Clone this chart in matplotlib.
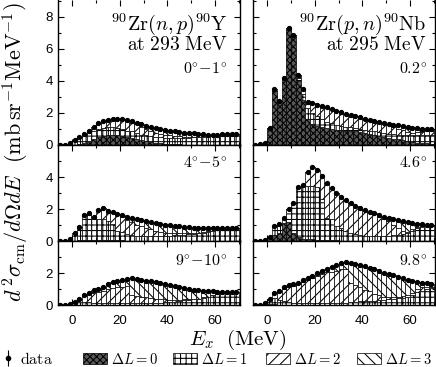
import numpy as np
import matplotlib.pyplot as plt
from matplotlib.patches import Patch
from matplotlib.ticker import MultipleLocator

plt.rcParams['font.family'] = 'Liberation Sans'
plt.rcParams['mathtext.fontset'] = 'cm'
plt.rcParams['hatch.linewidth'] = 0.75

# 2 MeV bins (centres) and data points
ex = np.arange(1, 70, 2)
ex_data = np.arange(-5, 70, 2)

# (n,p) 0-1 deg
np0_data = [0, 0.03, 0.1, 0.3, 0.52, 0.7, 0.88, 1.15, 1.4, 1.5, 1.58, 1.65, 1.65, 1.6, 1.55, 1.48, 1.4, 1.3,
            1.2, 1.12, 1.06, 1.0, 0.95, 0.9, 0.86, 0.82, 0.78, 0.75, 0.72, 0.68, 0.66, 0.64, 0.63, 0.64, 0.66,
            0.68, 0.7, 0.7]
np0_L0 = [0, 0.05, 0.1, 0.2, 0.35, 0.5, 0.55, 0.6, 0.6, 0.6, 0.55, 0.5, 0.45, 0.35, 0.3, 0.25, 0.2, 0.15,
          0.1, 0.08, 0.05, 0.05, 0.04, 0.03, 0.02, 0.02, 0.02, 0.01, 0.01, 0, 0, 0, 0, 0, 0]
np0_L1 = [0.3, 0.45, 0.5, 0.55, 0.55, 0.5, 0.5, 0.5, 0.5, 0.45, 0.45, 0.4, 0.4, 0.4, 0.35, 0.35, 0.35, 0.35,
          0.38, 0.38, 0.4, 0.4, 0.4, 0.4, 0.42, 0.45, 0.46, 0.5, 0.53, 0.56, 0.6, 0.63, 0.66, 0.68, 0.69]
np0_L2 = [0, 0, 0.1, 0.1, 0.25, 0.4, 0.45, 0.48, 0.55, 0.6, 0.6, 0.6, 0.55, 0.55, 0.5, 0.4, 0.32, 0.28,
          0.22, 0.19, 0.15, 0.11, 0.1, 0.1, 0.08, 0.05, 0.05, 0.05, 0.03, 0.02, 0.02, 0.02, 0.02, 0.02, 0.01]
np0_L3 = [0, 0, 0, 0, 0, 0, 0, 0, 0, 0, 0, 0.05, 0.08, 0.1, 0.15, 0.2, 0.25, 0.28,
          0.3, 0.3, 0.3, 0.3, 0.28, 0.25, 0.23, 0.2, 0.15, 0.1, 0.07, 0.05, 0.02, 0.01, 0, 0, 0]

# (p,n) 0.2 deg
pn0_data = [0, 0.05, 0.15, 1.05, 3.5, 2.75, 4.2, 7.3, 6.9, 4.4, 3.5, 2.7, 2.6, 2.5, 2.42, 2.35, 2.25, 2.15,
            2.05, 1.95, 1.88, 1.8, 1.72, 1.65, 1.58, 1.52, 1.46, 1.4, 1.34, 1.28, 1.22, 1.18, 1.13, 1.08,
            1.05, 1.02, 1.0, 0.98]
pn0_L0 = [1.0, 3.4, 2.65, 4.1, 7.2, 6.75, 4.0, 2.8, 1.6, 1.3, 1.2, 1.1, 1.05, 1.0, 0.95, 0.95, 0.9, 0.9,
          0.85, 0.8, 0.75, 0.7, 0.6, 0.55, 0.5, 0.45, 0.4, 0.35, 0.3, 0.25, 0.2, 0.15, 0.1, 0.1, 0.05]
pn0_L1 = [0.05, 0.1, 0.1, 0.1, 0.1, 0.1, 0.2, 0.4, 0.7, 0.7, 0.6, 0.5, 0.4, 0.35, 0.3, 0.25, 0.25, 0.2,
          0.2, 0.2, 0.2, 0.2, 0.25, 0.25, 0.25, 0.25, 0.3, 0.3, 0.35, 0.35, 0.4, 0.45, 0.5, 0.55, 0.6]
pn0_L2 = [0, 0, 0, 0, 0, 0.05, 0.2, 0.3, 0.4, 0.6, 0.7, 0.82, 0.9, 0.9, 0.9, 0.85, 0.8, 0.78,
          0.75, 0.72, 0.7, 0.68, 0.67, 0.66, 0.6, 0.54, 0.43, 0.37, 0.28, 0.23, 0.18, 0.2, 0.22, 0.2, 0.23]
pn0_L3 = [0, 0, 0, 0, 0, 0, 0, 0, 0, 0, 0, 0, 0, 0, 0, 0, 0, 0,
          0, 0, 0, 0, 0, 0, 0.05, 0.1, 0.15, 0.2, 0.25, 0.3, 0.3, 0.25, 0.2, 0.15, 0.1]

# (n,p) 4-5 deg
np4_data = [0, 0, 0.1, 0.5, 0.9, 1.6, 1.75, 1.48, 1.95, 2.05, 1.9, 1.8, 1.68, 1.6, 1.53, 1.46, 1.4, 1.32,
            1.25, 1.18, 1.1, 1.05, 1.0, 0.97, 0.94, 0.91, 0.88, 0.86, 0.84, 0.83, 0.82, 0.81, 0.8, 0.8,
            0.79, 0.79, 0.79, 0.79]
np4_L0 = [0, 0.05, 0.05, 0.05, 0.05, 0.05, 0.05, 0.05, 0.05, 0.05, 0.05, 0.03, 0.03, 0.02, 0.02, 0.02, 0.02,
          0.01, 0.01, 0.01, 0.01, 0, 0, 0, 0, 0, 0, 0, 0, 0, 0, 0, 0, 0, 0]
np4_L1 = [0.5, 0.85, 1.5, 1.6, 1.35, 1.35, 1.3, 1.2, 1.0, 0.6, 0.5, 0.4, 0.35, 0.3, 0.3, 0.3, 0.3, 0.3,
          0.3, 0.3, 0.32, 0.35, 0.38, 0.4, 0.42, 0.45, 0.48, 0.52, 0.56, 0.6, 0.66, 0.72, 0.76, 0.78, 0.79]
np4_L2 = [0, 0, 0.05, 0.1, 0.08, 0.55, 0.7, 0.65, 0.75, 1.03, 0.95, 0.9, 0.8, 0.7, 0.6, 0.5, 0.4, 0.3,
          0.25, 0.2, 0.15, 0.12, 0.1, 0.08, 0.06, 0.05, 0.05, 0.05, 0.05, 0.05, 0.04, 0.02, 0.01, 0.01, 0]
np4_L3 = [0, 0, 0, 0, 0, 0, 0, 0, 0, 0, 0.1, 0.2, 0.28, 0.38, 0.4, 0.43, 0.46, 0.49,
          0.49, 0.49, 0.49, 0.47, 0.43, 0.4, 0.38, 0.34, 0.3, 0.25, 0.2, 0.15, 0.1, 0.05, 0.02, 0, 0]

# (p,n) 4.6 deg
pn4_data = [0, 0, 0.05, 0.25, 0.95, 1.05, 1.45, 2.0, 2.4, 3.4, 3.5, 4.3, 4.65, 4.45, 4.05, 3.65, 3.3, 3.0,
            2.75, 2.55, 2.35, 2.18, 2.05, 1.93, 1.82, 1.72, 1.62, 1.53, 1.45, 1.37, 1.3, 1.24, 1.18, 1.12,
            1.08, 1.05, 1.02, 1.0]
pn4_L0 = [0.2, 0.4, 0.5, 1.1, 1.2, 0.5, 0.25, 0.15, 0.1, 0.1, 0.05, 0.05, 0.05, 0.05, 0.05, 0.03, 0.03, 0.03,
          0.02, 0.02, 0.02, 0.02, 0.01, 0.01, 0.01, 0, 0, 0, 0, 0, 0, 0, 0, 0, 0]
pn4_L1 = [0.05, 0.55, 0.55, 0.35, 0.8, 1.9, 3.1, 3.3, 3.35, 3.35, 3.3, 2.6, 1.4, 1.3, 0.9, 0.8, 0.6, 0.5,
          0.4, 0.35, 0.3, 0.3, 0.3, 0.3, 0.3, 0.3, 0.35, 0.4, 0.45, 0.5, 0.6, 0.8, 0.9, 0.95, 0.95]
pn4_L2 = [0, 0, 0, 0, 0, 0, 0.05, 0.05, 0.85, 1.2, 1.1, 1.4, 2.2, 1.95, 2.05, 1.92, 1.92, 1.82,
          1.76, 1.68, 1.61, 1.5, 1.36, 1.21, 1.07, 0.95, 0.62, 0.4, 0.19, 0.08, 0.12, 0.08, 0.05, 0.02, 0.05]
pn4_L3 = [0, 0, 0, 0, 0, 0, 0, 0, 0, 0, 0, 0, 0, 0, 0, 0, 0, 0,
          0, 0, 0, 0, 0.05, 0.1, 0.15, 0.2, 0.4, 0.5, 0.6, 0.6, 0.4, 0.2, 0.1, 0.05, 0]

# (n,p) 9-10 deg
np9_data = [0, 0, 0.05, 0.2, 0.38, 0.6, 0.78, 0.92, 1.02, 1.15, 1.3, 1.42, 1.52, 1.58, 1.64, 1.66, 1.62, 1.58,
            1.53, 1.48, 1.43, 1.37, 1.31, 1.24, 1.17, 1.1, 1.04, 0.99, 0.95, 0.92, 0.89, 0.87, 0.85, 0.84,
            0.83, 0.82, 0.81, 0.8]
np9_L0 = [0] * 35
np9_L1 = [0.15, 0.2, 0.2, 0.2, 0.15, 0.12, 0.1, 0.1, 0.1, 0.1, 0.1, 0.1, 0.1, 0.1, 0.1, 0.12, 0.12, 0.15,
          0.15, 0.2, 0.2, 0.2, 0.25, 0.3, 0.3, 0.35, 0.35, 0.45, 0.5, 0.6, 0.7, 0.75, 0.78, 0.8, 0.8]
np9_L2 = [0.05, 0.18, 0.35, 0.5, 0.62, 0.7, 0.8, 0.9, 0.95, 1.0, 1.05, 1.1, 0.5, 0.45, 0.4, 0.35, 0.3, 0.25,
          0.2, 0.15, 0.12, 0.1, 0.08, 0.06, 0.05, 0.05, 0.05, 0.04, 0.02, 0.02, 0.02, 0.02, 0.02, 0.01, 0]
np9_L3 = [0, 0, 0.05, 0.08, 0.15, 0.2, 0.25, 0.3, 0.37, 0.42, 0.43, 0.44, 1.06, 1.07, 1.08, 1.06, 1.06, 1.03,
          1.02, 0.96, 0.92, 0.87, 0.77, 0.68, 0.64, 0.55, 0.52, 0.4, 0.35, 0.23, 0.12, 0.06, 0.02, 0, 0]

# (p,n) 9.8 deg
pn9_data = [0, 0, 0.15, 0.38, 0.72, 0.9, 1.1, 1.22, 1.31, 1.4, 1.55, 1.68, 1.84, 1.98, 2.12, 2.24, 2.38, 2.5,
            2.6, 2.67, 2.65, 2.58, 2.5, 2.42, 2.32, 2.22, 2.12, 2.02, 1.95, 1.88, 1.78, 1.68, 1.58, 1.5,
            1.44, 1.4, 1.35, 1.31]
pn9_L0 = [0.05, 0.05, 0.03, 0.03, 0.02, 0.02, 0.02, 0.02, 0.02, 0.02, 0.02, 0.02, 0.02, 0.02, 0.02, 0.02,
          0.02, 0.02, 0.02, 0.02, 0.02, 0.02, 0.02, 0.02, 0.01, 0.01, 0.01, 0.01, 0.01, 0, 0, 0, 0, 0, 0]
pn9_L1 = [0.3, 0.4, 0.3, 0.2, 0.15, 0.12, 0.12, 0.12, 0.12, 0.12, 0.12, 0.12, 0.12, 0.12, 0.12, 0.12, 0.12,
          0.15, 0.15, 0.2, 0.2, 0.25, 0.25, 0.3, 0.3, 0.35, 0.35, 0.4, 0.45, 0.5, 0.6, 0.8, 0.9, 1.0, 1.05]
pn9_L2 = [0.03, 0.27, 0.5, 0.8, 0.95, 1.07, 1.16, 1.3, 1.42, 1.55, 1.69, 1.8, 1.9, 1.9, 2.0, 2.1, 2.1,
          1.2, 1.1, 0.9, 0.7, 0.6, 0.4, 0.3, 0.2, 0.15, 0.15, 0.1, 0.1, 0.1, 0.15, 0.2, 0.2, 0.15, 0.1]
pn9_L3 = [0, 0, 0.07, 0.07, 0.1, 0.1, 0.1, 0.11, 0.12, 0.15, 0.15, 0.18, 0.2, 0.34, 0.36, 0.36, 0.43,
          1.28, 1.31, 1.38, 1.5, 1.45, 1.55, 1.5, 1.51, 1.44, 1.37, 1.27, 1.12, 0.98, 0.75, 0.44, 0.3, 0.2, 0.16]

angle_labels = [[r'$0^{\circ}\!-\!1^{\circ}$', r'$0.2^{\circ}$'],
                [r'$4^{\circ}\!-\!5^{\circ}$', r'$4.6^{\circ}$'],
                [r'$9^{\circ}\!-\!10^{\circ}$', r'$9.8^{\circ}$']]
legend_labels = [r'$\mathrm{data}$', r'$\Delta L=0$', r'$\Delta L=1$', r'$\Delta L=2$', r'$\Delta L=3$']

panels = [[(np0_data, [np0_L0, np0_L1, np0_L2, np0_L3]), (pn0_data, [pn0_L0, pn0_L1, pn0_L2, pn0_L3])],
          [(np4_data, [np4_L0, np4_L1, np4_L2, np4_L3]), (pn4_data, [pn4_L0, pn4_L1, pn4_L2, pn4_L3])],
          [(np9_data, [np9_L0, np9_L1, np9_L2, np9_L3]), (pn9_data, [pn9_L0, pn9_L1, pn9_L2, pn9_L3])]]

styles = [dict(facecolor='0.35', hatch='xxxxx'),
          dict(facecolor='white', hatch='+++'),
          dict(facecolor='white', hatch='///'),
          dict(facecolor='white', hatch='\\\\\\')]

W, H = 436, 367
fig = plt.figure(figsize=(W / 100, H / 100), dpi=100)

col_left = [58, 253]
col_width = 182
rows = [(0, 145, 9.06, [0, 2, 4, 6, 8]), (145, 241, 6, [0, 2, 4]), (241, 305, 4, [0, 2])]

for r, (ytop, ybot, ymax, yt) in enumerate(rows):
    for c in range(2):
        ax = fig.add_axes([col_left[c] / W, (H - ybot) / H, col_width / W, (ybot - ytop) / H])
        data, comps = panels[r][c]
        bottom = np.zeros(len(ex))
        for vals, st in zip(comps, styles):
            vals = np.array(vals, dtype=float)
            ax.bar(ex, vals, width=2, bottom=bottom, edgecolor='k', linewidth=0.5, **st)
            bottom += vals
        ax.plot(ex_data, data, 'o', color='k', ms=2.8, zorder=5)
        ax.set_xlim(-6, 70.5)
        ax.set_ylim(0, ymax)
        ax.set_xticks([0, 20, 40, 60])
        ax.xaxis.set_minor_locator(MultipleLocator(10))
        ax.set_yticks(yt)
        ax.yaxis.set_minor_locator(MultipleLocator(1))
        ax.tick_params(which='both', direction='in', top=True, right=True, width=0.8, labelsize=9.5)
        ax.tick_params(which='major', length=4)
        ax.tick_params(which='minor', length=2.5)
        ax.tick_params(axis='x', pad=7)
        if r < 2:
            ax.tick_params(labelbottom=False)
        if c == 1:
            ax.tick_params(labelleft=False)
        if r == 0:
            ax.spines['top'].set_visible(False)
        for s in ax.spines.values():
            s.set_linewidth(1.0)
        xr = 0.93 if c == 0 else 0.955
        ax.text(xr, {0: 0.52, 1: 0.81, 2: 0.68}[r], angle_labels[r][c],
                transform=ax.transAxes, ha='right', va='center', fontsize=11.5)
        if r == 0:
            react = r'$^{90}\mathrm{Zr}(n,p)^{90}\mathrm{Y}$' if c == 0 else r'$^{90}\mathrm{Zr}(p,n)^{90}\mathrm{Nb}$'
            energy = r'$\mathrm{at\ 293\ MeV}$' if c == 0 else r'$\mathrm{at\ 295\ MeV}$'
            ax.text(xr, 0.83, react, transform=ax.transAxes, ha='right', va='center', fontsize=14.5)
            ax.text(xr, 0.69, energy, transform=ax.transAxes, ha='right', va='center', fontsize=14)

fig.text(0.036, 0.585, r'$d^{\,2}\sigma_{\rm cm}/d\Omega dE\ \ (\mathrm{mb\,sr^{-1}MeV^{-1}})$',
         rotation=90, ha='center', va='center', fontsize=16)
fig.text(0.545, 0.075, r'$E_x\ \ (\mathrm{MeV})$', ha='center', va='center', fontsize=15)

# legend: one entry per slot along the bottom
hax = fig.axes[0]
hdata = hax.errorbar([np.nan], [np.nan], yerr=[0.1], fmt='o', color='k', ms=3, elinewidth=0.8, capsize=0)
handles = [hdata] + [Patch(edgecolor='k', linewidth=0.5, **st) for st in styles]
slots = [0, 83, 173, 266, 357]
for h, lab, x0 in zip(handles, legend_labels, slots):
    fig.legend([h], [lab], loc='center left', bbox_to_anchor=(x0 / W, 0.021), frameon=False,
               fontsize=10.5 if x0 else 11.5, handlelength=1.0 if x0 == 0 else 1.65, handleheight=0.8,
               handletextpad=0.25, borderpad=0, borderaxespad=0)

fig.savefig('out.png', dpi=100)
